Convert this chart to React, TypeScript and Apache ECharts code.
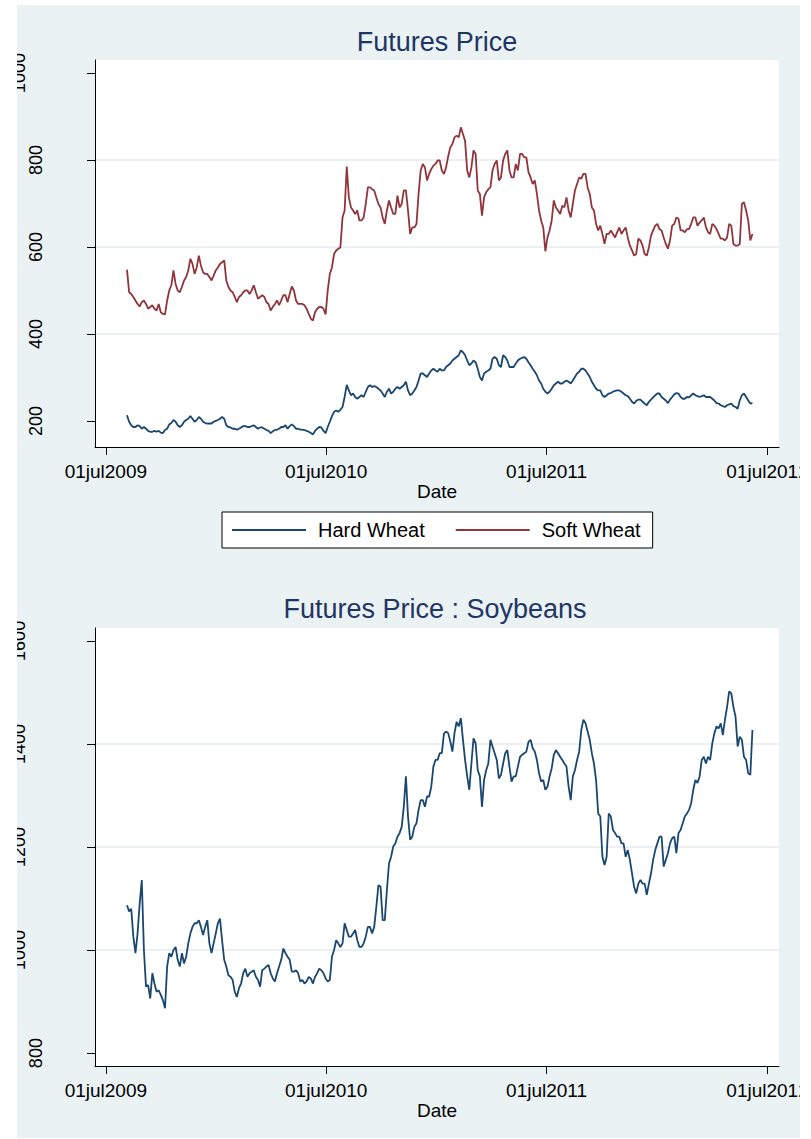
import React, { useEffect, useRef } from "react";
import * as echarts from "echarts";

// ---- data ----
// Weekly readings (first reading on FIRST_WEEK) and mid-week readings between them.
const FIRST_WEEK = "2009-08-05";

const HARD_WHEAT = [
  213, 190, 186, 188, 186, 177, 175, 175, 173, 179,
  192, 202, 190, 190, 202, 211, 198, 209, 198, 194,
  194, 200, 205, 205, 186, 182, 180, 185, 188, 186,
  190, 182, 185, 179, 172, 179, 182, 186, 182, 192,
  182, 180, 179, 175, 169, 182, 185, 172, 198, 221,
  221, 232, 283, 259, 255, 255, 255, 278, 278, 278,
  270, 255, 274, 267, 278, 278, 290, 259, 270, 293,
  309, 301, 316, 316, 320, 316, 328, 339, 347, 362,
  351, 328, 339, 320, 293, 313, 320, 347, 328, 351,
  339, 324, 332, 343, 347, 335, 320, 305, 286, 267,
  267, 282, 290, 286, 293, 286, 301, 313, 320, 309,
  290, 274, 270, 255, 263, 267, 270, 267, 259, 251,
  240, 249, 244, 236, 249, 259, 263, 251, 241, 255,
  264, 255, 251, 254, 263, 257, 257, 255, 255, 247,
  240, 234, 236, 240, 232, 247, 263, 247, 241,
];
const HARD_WHEAT_MID = [
  198, 186, 190, 182, 182, 175, 177, 177, 172, 182,
  195, 198, 186, 198, 205, 205, 202, 205, 195, 194,
  198, 202, 209, 190, 185, 182, 182, 188, 186, 188,
  186, 185, 182, 177, 176, 180, 186, 190, 188, 188,
  182, 180, 177, 172, 177, 186, 177, 186, 211, 224,
  226, 255, 270, 263, 251, 259, 267, 282, 280, 274,
  263, 267, 263, 274, 274, 282, 270, 263, 278, 309,
  305, 309, 320, 313, 316, 324, 332, 343, 351, 358,
  339, 332, 335, 301, 309, 316, 343, 343, 324, 347,
  324, 324, 339, 345, 343, 328, 313, 293, 274, 263,
  274, 286, 286, 290, 290, 293, 309, 320, 316, 301,
  282, 270, 259, 259, 264, 269, 270, 263, 257, 244,
  246, 249, 240, 244, 254, 263, 255, 247, 249, 261,
  263, 251, 255, 259, 259, 255, 259, 255, 251, 241,
  236, 232, 238, 234, 228, 259, 255, 240,
];

const SOFT_WHEAT = [
  548, 492, 477, 463, 477, 458, 466, 454, 450, 445,
  500, 546, 500, 508, 531, 573, 538, 580, 542, 538,
  523, 546, 561, 569, 508, 496, 473, 489, 500, 492,
  512, 481, 489, 473, 454, 469, 466, 489, 473, 509,
  477, 469, 466, 446, 431, 458, 462, 445, 538, 584,
  596, 668, 785, 691, 676, 661, 668, 737, 733, 714,
  691, 653, 707, 676, 718, 699, 730, 630, 645, 722,
  791, 753, 779, 791, 799, 768, 808, 837, 856, 875,
  844, 760, 822, 730, 672, 726, 737, 791, 753, 799,
  822, 760, 791, 814, 806, 772, 745, 722, 661, 590,
  638, 707, 684, 695, 714, 668, 730, 760, 768, 737,
  691, 653, 649, 607, 630, 630, 634, 630, 645, 603,
  580, 619, 603, 580, 626, 649, 641, 622, 596, 649,
  668, 638, 634, 641, 668, 649, 661, 645, 630, 649,
  630, 619, 622, 649, 603, 607, 703, 661, 630,
];
const SOFT_WHEAT_MID = [
  496, 485, 469, 473, 469, 462, 458, 469, 446, 477,
  512, 515, 496, 523, 546, 561, 553, 557, 538, 531,
  534, 553, 565, 523, 500, 485, 485, 496, 500, 500,
  496, 485, 485, 469, 462, 477, 477, 489, 492, 500,
  469, 469, 458, 435, 450, 462, 458, 500, 553, 592,
  599, 684, 714, 684, 684, 661, 699, 737, 730, 699,
  668, 684, 691, 676, 691, 730, 684, 645, 653, 776,
  783, 768, 787, 799, 776, 783, 829, 852, 852, 860,
  776, 783, 814, 722, 714, 733, 776, 799, 760, 814,
  776, 760, 776, 814, 806, 760, 753, 684, 645, 622,
  661, 691, 676, 691, 684, 699, 745, 757, 768, 722,
  684, 638, 630, 630, 638, 622, 645, 638, 622, 592,
  584, 615, 584, 599, 638, 653, 638, 607, 615, 653,
  665, 638, 641, 653, 668, 656, 668, 634, 653, 641,
  619, 615, 653, 607, 603, 699, 684, 615,
];

const SOYBEANS = [
  1087, 1080, 994, 1090, 1000, 932, 955, 919, 913, 887,
  994, 1000, 981, 994, 987, 1032, 1052, 1058, 1029, 1058,
  994, 1032, 1061, 981, 951, 942, 909, 935, 964, 955,
  961, 942, 961, 968, 955, 939, 968, 1003, 987, 958,
  961, 939, 935, 948, 935, 955, 961, 945, 942, 1000,
  1013, 1013, 1039, 1026, 1039, 1006, 1013, 1045, 1032, 1084,
  1123, 1058, 1168, 1201, 1220, 1239, 1337, 1214, 1239, 1272,
  1291, 1298, 1317, 1369, 1382, 1420, 1421, 1385, 1443, 1450,
  1369, 1311, 1411, 1349, 1278, 1349, 1408, 1382, 1333, 1362,
  1388, 1327, 1337, 1375, 1382, 1404, 1392, 1369, 1327, 1311,
  1337, 1379, 1382, 1369, 1356, 1291, 1349, 1385, 1447, 1424,
  1382, 1330, 1259, 1165, 1265, 1233, 1220, 1207, 1181, 1175,
  1123, 1129, 1129, 1107, 1149, 1194, 1220, 1162, 1188, 1217,
  1188, 1233, 1259, 1272, 1311, 1324, 1369, 1362, 1369, 1421,
  1430, 1417, 1472, 1498, 1453, 1414, 1375, 1343, 1427,
];
const SOYBEANS_MID = [
  1075, 1026, 1032, 1136, 929, 906, 935, 922, 903, 968,
  987, 1006, 968, 974, 1013, 1045, 1052, 1045, 1045, 1013,
  1013, 1052, 1019, 968, 948, 919, 926, 955, 948, 958,
  948, 929, 964, 971, 945, 955, 981, 994, 981, 958,
  955, 942, 939, 945, 948, 964, 955, 939, 987, 1019,
  1006, 1052, 1026, 1032, 1019, 1006, 1026, 1045, 1045, 1126,
  1058, 1116, 1181, 1207, 1227, 1278, 1259, 1220, 1246, 1291,
  1278, 1298, 1356, 1369, 1382, 1424, 1405, 1421, 1434, 1408,
  1337, 1362, 1401, 1337, 1330, 1362, 1395, 1369, 1340, 1382,
  1356, 1337, 1356, 1379, 1385, 1408, 1385, 1343, 1330, 1317,
  1353, 1388, 1375, 1362, 1317, 1337, 1369, 1427, 1440, 1408,
  1362, 1265, 1181, 1181, 1259, 1227, 1220, 1207, 1194, 1149,
  1110, 1136, 1129, 1129, 1175, 1207, 1220, 1175, 1207, 1220,
  1227, 1246, 1265, 1285, 1330, 1337, 1375, 1375, 1401, 1434,
  1440, 1447, 1502, 1472, 1395, 1408, 1369, 1340,
];

const X_TICKS = ["2009-07-01", "2010-07-01", "2011-07-01", "2012-07-01"];
const X_RANGE = ["2009-06-13", "2012-07-20"];
const WHEAT_Y_TICKS = [200, 400, 600, 800, 1000];
const WHEAT_Y_RANGE = [140, 1030];
const SOY_Y_TICKS = [800, 1000, 1200, 1400, 1600];
const SOY_Y_RANGE = [775, 1625];
const MONTHS = ["jan", "feb", "mar", "apr", "may", "jun", "jul", "aug", "sep", "oct", "nov", "dec"];

// ---- helpers ----
const DAY = 86400000;
function ts(s: string): number {
  const [y, m, d] = s.split("-").map(Number);
  return Date.UTC(y, m - 1, d);
}
// pairs each weekly reading with its date, followed by the mid-week reading
function buildSeries(weekly: number[], mid: number[]): [number, number][] {
  const start = ts(FIRST_WEEK);
  const out: [number, number][] = [];
  weekly.forEach((v, i) => {
    const t = start + i * 7 * DAY;
    out.push([t, v]);
    if (i < mid.length) out.push([t + 3.5 * DAY, mid[i]]);
  });
  return out;
}
function fmtDate(v: number): string {
  const d = new Date(v);
  const dd = String(d.getUTCDate()).padStart(2, "0");
  return dd + MONTHS[d.getUTCMonth()] + d.getUTCFullYear();
}

const FONT = '"Liberation Sans", Arial, Helvetica, sans-serif';
const NAVY = "#1A476F";
const MAROON = "#90353B";
const BG = "#EAF2F3";
const GRIDLINE = "#E4ECEF";

function xAxis(gridIndex: number) {
  const ticks = X_TICKS.map(ts);
  return {
    type: "value",
    gridIndex,
    min: ts(X_RANGE[0]),
    max: ts(X_RANGE[1]),
    axisLine: { show: true, onZero: false, lineStyle: { color: "#000", width: 1 } },
    axisTick: { show: true, customValues: ticks, length: 8, lineStyle: { color: "#000", width: 1 } },
    axisLabel: {
      customValues: ticks,
      formatter: (v: number) => fmtDate(v),
      color: "#000",
      fontSize: 19,
      fontFamily: FONT,
      margin: 15,
    },
    splitLine: { show: false },
    name: "Date",
    nameLocation: "middle",
    nameGap: 33,
    nameTextStyle: { color: "#000", fontSize: 19, fontFamily: FONT },
  };
}

function yAxis(gridIndex: number, ticks: number[], range: number[]) {
  return {
    type: "value",
    gridIndex,
    position: "left",
    min: range[0],
    max: range[1],
    axisLine: { show: true, onZero: false, lineStyle: { color: "#000", width: 1 } },
    axisTick: { show: true, customValues: ticks, length: 8, lineStyle: { color: "#000", width: 1 } },
    axisLabel: {
      customValues: ticks,
      rotate: 90,
      margin: 50,
      formatter: (v: number) => (String(v).length > 3 ? `{w|${v}}` : `{n|${v}}`),
      rich: {
        w: { padding: [0, 0, 17, 0], fontSize: 18, color: "#000", fontFamily: FONT },
        n: { fontSize: 18, color: "#000", fontFamily: FONT },
      },
    },
    splitLine: {
      show: true,
      showMinLine: false,
      showMaxLine: false,
      lineStyle: { color: GRIDLINE, width: 1.5 },
    },
  };
}

export default function App() {
  const ref = useRef<HTMLDivElement>(null);
  useEffect(() => {
    if (!ref.current) return;
    const chart = echarts.init(ref.current, null, { renderer: "svg" });
    const titleStyle = { color: "#1F3564", fontSize: 27, fontWeight: "normal", fontFamily: FONT };
    const gridBase = {
      left: 78,
      width: 684,
      show: true,
      backgroundColor: "#fff",
      borderWidth: 0,
      containLabel: false,
      outerBoundsMode: "none",
    };
    const lineSeries = (name: string, idx: number, data: [number, number][], color: string) => ({
      name,
      type: "line",
      xAxisIndex: idx,
      yAxisIndex: idx,
      data,
      symbol: "none",
      showSymbol: false,
      lineStyle: { color, width: 1.8 },
      itemStyle: { color },
    });
    chart.setOption({
      animation: false,
      backgroundColor: BG,
      title: [
        { text: "Futures Price", left: 420, top: 23, textAlign: "center", padding: 0, textStyle: titleStyle },
        { text: "Futures Price : Soybeans", left: 418, top: 590, textAlign: "center", padding: 0, textStyle: titleStyle },
      ],
      legend: {
        data: ["Hard Wheat", "Soft Wheat"],
        left: 205,
        top: 507,
        orient: "horizontal",
        backgroundColor: "#fff",
        borderColor: "#000",
        borderWidth: 1,
        borderRadius: 0,
        padding: [8, 12, 8, 10],
        itemGap: 31,
        itemWidth: 74,
        itemHeight: 2,
        icon: "rect",
        textStyle: { fontSize: 20, color: "#000", fontFamily: FONT, padding: [0, 0, 0, 7] },
      },
      grid: [
        { ...gridBase, top: 55, height: 387 },
        { ...gridBase, top: 623, height: 438 },
      ],
      xAxis: [xAxis(0), xAxis(1)],
      yAxis: [yAxis(0, WHEAT_Y_TICKS, WHEAT_Y_RANGE), yAxis(1, SOY_Y_TICKS, SOY_Y_RANGE)],
      series: [
        lineSeries("Hard Wheat", 0, buildSeries(HARD_WHEAT, HARD_WHEAT_MID), NAVY),
        lineSeries("Soft Wheat", 0, buildSeries(SOFT_WHEAT, SOFT_WHEAT_MID), MAROON),
        lineSeries("Soybeans", 1, buildSeries(SOYBEANS, SOYBEANS_MID), NAVY),
      ],
    });
    return () => chart.dispose();
  }, []);
  return (
    <div
      ref={ref}
      style={{ position: "absolute", left: 17, top: 5, width: 783, height: 1133 }}
    />
  );
}
